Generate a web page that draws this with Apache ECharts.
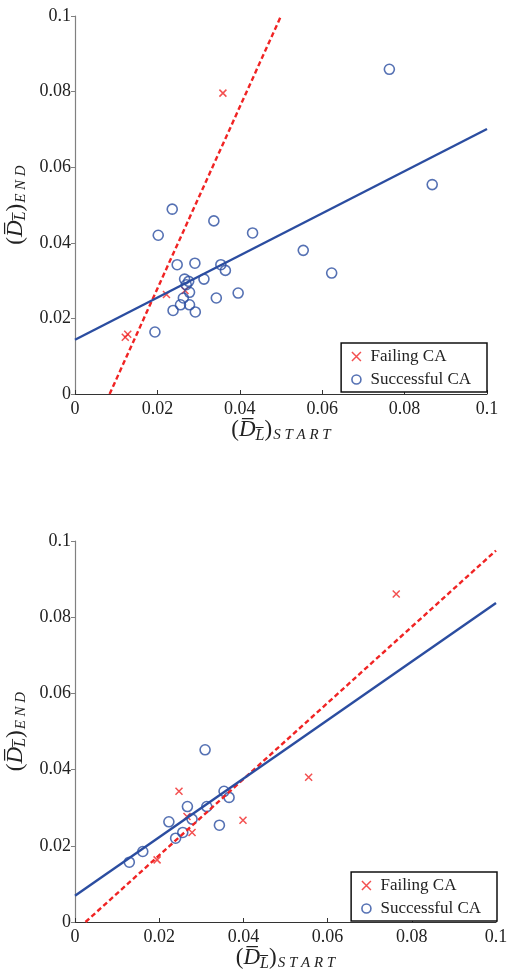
<!DOCTYPE html>
<html>
<head>
<meta charset="utf-8">
<script src="https://cdn.jsdelivr.net/npm/echarts@6/dist/echarts.min.js"></script>
<style>
html,body{margin:0;padding:0;background:#fff;}
#chart{width:507px;height:969px;}
</style>
</head>
<body>
<div id="chart"></div>
<script>
// ---- Data ----
const xTicks = [0, 0.02, 0.04, 0.06, 0.08, 0.1];
const yTicks = [0, 0.02, 0.04, 0.06, 0.08, 0.1];

// Top panel
const topFailX = [0.0359, 0.0222, 0.0267, 0.0122, 0.0128];
const topFailY = [0.0796, 0.0263, 0.0274, 0.0150, 0.0158];
const topSuccX = [0.0763, 0.0867, 0.0236, 0.0337, 0.0202, 0.0431, 0.0554, 0.0623, 0.0248, 0.0291,
                  0.0354, 0.0365, 0.0266, 0.0276, 0.0270, 0.0313, 0.0278, 0.0396, 0.0263, 0.0343,
                  0.0256, 0.0278, 0.0238, 0.0292, 0.0194];
const topSuccY = [0.0859, 0.0554, 0.0489, 0.0458, 0.0420, 0.0426, 0.0380, 0.0320, 0.0342, 0.0346,
                  0.0342, 0.0327, 0.0304, 0.0298, 0.0289, 0.0304, 0.0269, 0.0267, 0.0254, 0.0254,
                  0.0236, 0.0236, 0.0221, 0.0217, 0.0164];
const topFailFitX = [0.0084, 0.0500];
const topFailFitY = [0.0, 0.1];
const topSuccFitX = [0.0, 0.1];
const topSuccFitY = [0.01435, 0.0701];

// Bottom panel
const botFailX = [0.0763, 0.0555, 0.0247, 0.0399, 0.0278, 0.0195, 0.0266];
const botFailY = [0.0861, 0.0380, 0.0343, 0.0267, 0.0235, 0.0163, 0.0277];
const botSuccX = [0.0309, 0.0354, 0.0366, 0.0267, 0.0313, 0.0223, 0.0278, 0.0343, 0.0256, 0.0239, 0.0161, 0.0129];
const botSuccY = [0.0452, 0.0343, 0.0327, 0.0303, 0.0303, 0.0263, 0.0270, 0.0254, 0.0235, 0.0220, 0.0185, 0.0157];
const botFailFitX = [0.0025, 0.1];
const botFailFitY = [0.0, 0.0975];
const botSuccFitX = [0.0, 0.1];
const botSuccFitY = [0.0069, 0.0837];

const seriesNames = ['Failing CA', 'Successful CA'];

// ---- Styling ----
const RED = '#f02424';
const BLUE = '#2b4da0';
const SERIF = '"Liberation Serif","DejaVu Serif",serif';
const crossPath = 'path://M0,0L10,10M10,0L0,10';
const zip = (xs, ys) => xs.map((x, i) => [x, ys[i]]);
const fmt = v => String(+v.toFixed(2));

const OL = '\u0305';
const richName = {
  n: {fontFamily: SERIF, fontSize: 23, color: '#222'},
  i: {fontFamily: SERIF, fontSize: 23, fontStyle: 'italic', color: '#222'},
  sub: {fontFamily: SERIF, fontSize: 16, fontStyle: 'italic', color: '#222', padding: [10, 0, 0, 0]},
  sub2: {fontFamily: SERIF, fontSize: 15, fontStyle: 'italic', color: '#222', padding: [10, 0, 0, 1]}
};
const nameX = '{n|(}{i|D' + OL + '}{sub|L' + OL + '}{n|)}{sub2|S T A R T}';
const nameY = '{n|(}{i|D' + OL + '}{sub|L' + OL + '}{n|)}{sub2|E N D}';

function xAxisCfg(gi) {
  return {
    type: 'value', gridIndex: gi, min: 0, max: 0.1, interval: 0.02,
    name: nameX, nameLocation: 'middle', nameGap: 22,
    nameTextStyle: {rich: richName},
    axisLine: {lineStyle: {color: '#333', width: 1.2}},
    axisTick: {inside: true, length: 4, lineStyle: {color: '#333'}},
    axisLabel: {formatter: fmt, fontFamily: SERIF, fontSize: 18, color: '#222', margin: 6},
    splitLine: {show: false}
  };
}
function yAxisCfg(gi) {
  return {
    type: 'value', gridIndex: gi, min: 0, max: 0.1, interval: 0.02,
    name: nameY, nameLocation: 'middle', nameGap: 38,
    nameTextStyle: {rich: richName},
    axisLine: {show: true, lineStyle: {color: '#808080', width: 1.2}},
    axisTick: {show: true, inside: false, length: 4, lineStyle: {color: '#808080'}},
    axisLabel: {formatter: fmt, fontFamily: SERIF, fontSize: 18, color: '#222', margin: 4},
    splitLine: {show: false}
  };
}

function panelSeries(gi, failX, failY, succX, succY, ffx, ffy, sfx, sfy) {
  return [
    {
      name: seriesNames[0], type: 'scatter', xAxisIndex: gi, yAxisIndex: gi,
      symbol: crossPath, symbolSize: 7,
      itemStyle: {color: 'rgba(0,0,0,0)', borderColor: RED, borderWidth: 1.5},
      data: zip(failX, failY), z: 2
    },
    {
      name: seriesNames[1], type: 'scatter', xAxisIndex: gi, yAxisIndex: gi,
      symbol: 'circle', symbolSize: 10,
      itemStyle: {color: 'rgba(0,0,0,0)', borderColor: BLUE, borderWidth: 1.6},
      data: zip(succX, succY), z: 3
    },
    {
      type: 'line', xAxisIndex: gi, yAxisIndex: gi, showSymbol: false, symbol: 'none',
      lineStyle: {color: RED, width: 2.4, type: [5, 3]},
      data: zip(ffx, ffy), z: 4, silent: true
    },
    {
      type: 'line', xAxisIndex: gi, yAxisIndex: gi, showSymbol: false, symbol: 'none',
      lineStyle: {color: BLUE, width: 2.4},
      data: zip(sfx, sfy), z: 5, silent: true
    }
  ];
}

function legendCfg(right, top) {
  return {
    data: [
      {name: seriesNames[0], icon: crossPath, itemStyle: {color: 'rgba(0,0,0,0)', borderColor: RED, borderWidth: 1.5}},
      {name: seriesNames[1], icon: 'circle', itemStyle: {color: 'rgba(0,0,0,0)', borderColor: BLUE, borderWidth: 1.6}}
    ],
    orient: 'vertical', right: right, top: top,
    itemWidth: 18, itemHeight: 9, itemGap: 6,
    padding: [5, 16, 4, 10],
    borderColor: '#111', borderWidth: 1.5, backgroundColor: '#fff',
    textStyle: {fontFamily: SERIF, fontSize: 17, color: '#222'},
    selectedMode: false
  };
}

const chart = echarts.init(document.getElementById('chart'), null, {renderer: 'canvas'});
chart.setOption({
  animation: false,
  backgroundColor: '#fff',
  grid: [
    {left: 75, top: 16, width: 412, height: 378, containLabel: false, outerBoundsMode: 'none'},
    {left: 75, top: 541, width: 421, height: 381, containLabel: false, outerBoundsMode: 'none'}
  ],
  xAxis: [xAxisCfg(0), xAxisCfg(1)],
  yAxis: [yAxisCfg(0), yAxisCfg(1)],
  legend: [legendCfg(20, 343), legendCfg(10, 872)],
  series: [].concat(
    panelSeries(0, topFailX, topFailY, topSuccX, topSuccY, topFailFitX, topFailFitY, topSuccFitX, topSuccFitY),
    panelSeries(1, botFailX, botFailY, botSuccX, botSuccY, botFailFitX, botFailFitY, botSuccFitX, botSuccFitY)
  )
});
</script>
</body>
</html>
